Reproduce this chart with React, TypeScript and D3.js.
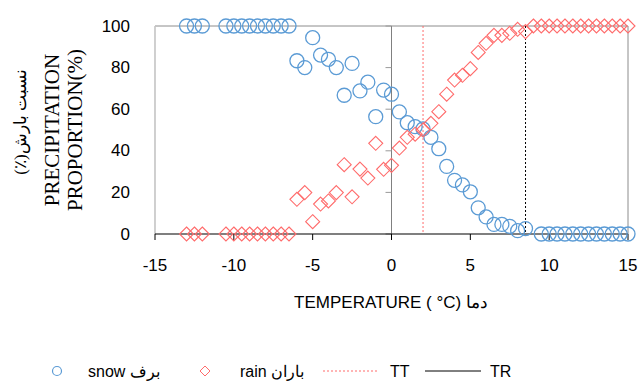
import React from "react";
import * as d3 from "d3";

// temperature (°C) and share of snow (%)
const snowTemps = [
  -13, -12.5, -12, -10.5, -10, -9.5, -9, -8.5, -8, -7.5, -7, -6.5, -6, -5.5, -5, -4.5, -4, -3.5, -3,
  -2.5, -2, -1.5, -1, -0.5, 0, 0.5, 1, 1.5, 2, 2.5, 3, 3.5, 4, 4.5, 5, 5.5, 6, 6.5, 7, 7.5, 8, 8.5,
  9.5, 10, 10.5, 11, 11.5, 12, 12.5, 13, 13.5, 14, 14.5, 15,
];
const snowValues = [
  100, 100, 100, 100, 100, 100, 100, 100, 100, 100, 100, 100, 83.3, 80, 94.4, 86, 84, 80, 66.7,
  82, 68.8, 73, 56.4, 69.2, 67.2, 58.7, 53.5, 51.6, 50.5, 46.5, 41, 32.5, 25.8, 23.6, 20.3, 12.6,
  8.2, 4.6, 4.6, 3.7, 1.6, 2.6, 0, 0, 0, 0, 0, 0, 0, 0, 0, 0, 0, 0,
];

// temperature (°C) and share of rain (%)
const rainTemps = [
  -13, -12.5, -12, -10.5, -10, -9.5, -9, -8.5, -8, -7.5, -7, -6.5, -6, -5.5, -5, -4.5, -4, -3.5, -3,
  -2.5, -2, -1.5, -1, -0.5, 0, 0.5, 1, 1.5, 2, 2.5, 3, 3.5, 4, 4.5, 5, 5.5, 6, 6.5, 7, 7.5, 8, 8.5,
  9, 9.5, 10, 10.5, 11, 11.5, 12, 12.5, 13, 13.5, 14, 14.5, 15,
];
const rainValues = [
  0, 0, 0, 0, 0, 0, 0, 0, 0, 0, 0, 0, 16.7, 19.9, 5.9, 14.4, 15.9, 19.9, 33.3, 17.9, 31.2, 26.9,
  43.6, 31.1, 33, 41.3, 46.5, 48, 50, 53.2, 58.8, 67.2, 74, 76.3, 79.5, 87.3, 91.7, 95.5, 95.5,
  96.5, 98.4, 97.3, 100, 100, 100, 100, 100, 100, 100, 100, 100, 100, 100, 100, 100,
];

// threshold temperatures
const TT = 2;
const TR = 8.5;

const xTicks = [-15, -10, -5, 0, 5, 10, 15];
const yTicks = [0, 20, 40, 60, 80, 100];

const W = 641;
const H = 385;
const margin = { top: 26, right: 13, bottom: 151, left: 155 };
const FONT = "'Liberation Sans', Arial, sans-serif";
const SERIF = "'Liberation Serif', 'DejaVu Serif', serif";
const BLUE = "#5b9bd5";
const RED = "#ff6b6b";

const App = () => {
  const x = d3.scaleLinear().domain([-15, 15]).range([margin.left, W - margin.right]);
  const y = d3.scaleLinear().domain([0, 100]).range([H - margin.bottom, margin.top]);
  const [x0, x1] = x.range();
  const [yb, yt] = y.range();

  const snow = snowTemps.map((t, i) => ({ t, v: snowValues[i] }));
  const rain = rainTemps.map((t, i) => ({ t, v: rainValues[i] }));
  const diamond = (cx, cy, r) => `M${cx},${cy - r}L${cx + r},${cy}L${cx},${cy + r}L${cx - r},${cy}Z`;

  return (
    <svg
      width={W}
      height={H}
      style={{ position: "absolute", left: 0, top: 0, background: "#fff" }}
      fontFamily={FONT}
    >
      {/* plot frame */}
      <line x1={x0} x2={x1} y1={yt} y2={yt} stroke="#8c8c8c" strokeWidth={1} />
      <line x1={x1} x2={x1} y1={yt} y2={yb} stroke="#8c8c8c" strokeWidth={1} />
      <line x1={x0} x2={x0} y1={yt} y2={yb} stroke="#c4c4c4" strokeWidth={1.6} />

      {/* vertical axis at 0 with ticks */}
      <line x1={x(0)} x2={x(0)} y1={yt} y2={yb} stroke="#808080" strokeWidth={1} />
      {yTicks.map((t) => (
        <line key={t} x1={x(0) - 6} x2={x(0)} y1={y(t)} y2={y(t)} stroke="#9a9a9a" strokeWidth={1} />
      ))}

      {/* threshold lines */}
      <line x1={x(TT)} x2={x(TT)} y1={yt} y2={yb} stroke={RED} strokeWidth={1} strokeDasharray="2,2" />
      <line x1={x(TR)} x2={x(TR)} y1={yt} y2={yb} stroke="#000" strokeWidth={1} strokeDasharray="2,2" />

      {/* bottom axis */}
      <line x1={x0} x2={x1} y1={yb} y2={yb} stroke="#000" strokeWidth={1.2} />
      {xTicks.map((t) => (
        <g key={t}>
          <line x1={x(t)} x2={x(t)} y1={yb} y2={yb + 6} stroke="#000" strokeWidth={1} />
          <text x={x(t)} y={265} textAnchor="middle" dominantBaseline="central" fontSize={17} fill="#000">
            {t}
          </text>
        </g>
      ))}

      {/* left tick labels */}
      {yTicks.map((t) => (
        <text key={t} x={130} y={y(t)} textAnchor="end" dominantBaseline="central" fontSize={17} fill="#000">
          {t}
        </text>
      ))}

      {/* series */}
      {snow.map((d, i) => (
        <circle key={"s" + i} cx={x(d.t)} cy={y(d.v)} r={7} fill="none" stroke={BLUE} strokeWidth={1.3} />
      ))}
      {rain.map((d, i) => (
        <path key={"r" + i} d={diamond(x(d.t), y(d.v), 7)} fill="none" stroke={RED} strokeWidth={1.1} />
      ))}

      {/* axis titles */}
      <text x={391} y={302} textAnchor="middle" dominantBaseline="central" fontSize={17} fill="#000">
        TEMPERATURE ( °C) دما
      </text>
      <text
        transform="translate(52,130) rotate(-90)"
        textAnchor="middle"
        dy="0.35em"
        fontFamily={SERIF}
        fontSize={21}
        fill="#000"
      >
        PRECIPITATION
      </text>
      <text
        transform="translate(75,130) rotate(-90)"
        textAnchor="middle"
        dy="0.35em"
        fontFamily={SERIF}
        fontSize={21}
        fill="#000"
      >
        PROPORTION(%)
      </text>
      <text
        transform="translate(20,122) rotate(-90)"
        textAnchor="middle"
        dy="0.35em"
        direction="rtl"
        fontFamily={SERIF}
        fontSize={17}
        fill="#000"
      >
        نسبت بارش(٪)
      </text>

      {/* legend */}
      <g fontSize={16} fill="#000">
        <circle cx={57} cy={371} r={4.5} fill="none" stroke={BLUE} strokeWidth={1.2} />
        <text x={88} y={371} dominantBaseline="central">snow برف</text>
        <path d={diamond(205, 371, 5)} fill="none" stroke={RED} strokeWidth={1} />
        <text x={240} y={371} dominantBaseline="central">rain باران</text>
        <line x1={323} x2={378} y1={371} y2={371} stroke={RED} strokeWidth={1} strokeDasharray="2,2" />
        <text x={390} y={371} dominantBaseline="central">TT</text>
        <line x1={425} x2={481} y1={371} y2={371} stroke="#000" strokeWidth={1} />
        <text x={490} y={371} dominantBaseline="central">TR</text>
      </g>
    </svg>
  );
};

export default App;
